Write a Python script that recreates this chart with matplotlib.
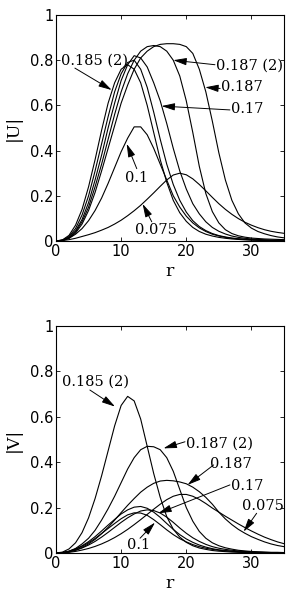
import matplotlib
matplotlib.use("Agg")
import matplotlib.pyplot as plt

# radial coordinate
r = list(range(0, 36))

# |U| profiles
U_0185_2 = [0, 0.005, 0.025, 0.07, 0.14, 0.24, 0.36, 0.49, 0.61, 0.70, 0.76, 0.78, 0.76, 0.70, 0.60, 0.48,
            0.36, 0.26, 0.18, 0.125, 0.087, 0.06, 0.042, 0.03, 0.022, 0.016, 0.012, 0.009, 0.007, 0.005,
            0.004, 0.003, 0.002, 0.002, 0.001, 0.001]
U_mid = [0, 0.004, 0.02, 0.055, 0.115, 0.20, 0.31, 0.43, 0.55, 0.66, 0.74, 0.79, 0.80, 0.76, 0.68, 0.57,
         0.45, 0.34, 0.25, 0.18, 0.128, 0.09, 0.064, 0.046, 0.033, 0.024, 0.018, 0.013, 0.01, 0.008,
         0.006, 0.005, 0.004, 0.003, 0.002, 0.002]
U_017 = [0, 0.003, 0.016, 0.045, 0.095, 0.17, 0.27, 0.38, 0.50, 0.61, 0.71, 0.78, 0.82, 0.81, 0.77, 0.70,
         0.62, 0.52, 0.41, 0.31, 0.23, 0.165, 0.12, 0.085, 0.06, 0.043, 0.031, 0.022, 0.016, 0.012,
         0.009, 0.007, 0.005, 0.004, 0.003, 0.003]
U_0187_2 = [0, 0.003, 0.014, 0.04, 0.085, 0.15, 0.24, 0.34, 0.45, 0.56, 0.66, 0.74, 0.80, 0.84, 0.86, 0.865,
            0.86, 0.84, 0.80, 0.73, 0.62, 0.48, 0.33, 0.21, 0.13, 0.08, 0.05, 0.033, 0.023, 0.017,
            0.013, 0.011, 0.009, 0.008, 0.007, 0.006]
U_0187 = [0, 0.002, 0.012, 0.035, 0.075, 0.135, 0.215, 0.31, 0.41, 0.51, 0.61, 0.69, 0.76, 0.81, 0.84, 0.86,
          0.87, 0.873, 0.873, 0.87, 0.86, 0.83, 0.76, 0.66, 0.53, 0.39, 0.27, 0.18, 0.12, 0.08,
          0.057, 0.042, 0.032, 0.024, 0.018, 0.014]
U_01 = [0, 0.003, 0.012, 0.03, 0.055, 0.09, 0.135, 0.19, 0.255, 0.325, 0.395, 0.455, 0.505, 0.505, 0.47, 0.41,
        0.34, 0.27, 0.20, 0.15, 0.11, 0.08, 0.058, 0.042, 0.03, 0.022, 0.016, 0.012, 0.009, 0.007,
        0.005, 0.004, 0.003, 0.002, 0.002, 0.001]
U_0075 = [0, 0.002, 0.006, 0.012, 0.02, 0.028, 0.037, 0.048, 0.06, 0.075, 0.092, 0.112, 0.134, 0.158, 0.185, 0.213,
          0.242, 0.27, 0.292, 0.30, 0.293, 0.275, 0.25, 0.222, 0.193, 0.165, 0.14, 0.118, 0.099, 0.083,
          0.07, 0.059, 0.05, 0.043, 0.038, 0.034]

# |V| profiles
V_0185_2 = [0, 0.004, 0.018, 0.045, 0.09, 0.155, 0.24, 0.34, 0.45, 0.56, 0.65, 0.69, 0.67, 0.59, 0.47, 0.35,
            0.245, 0.16, 0.105, 0.07, 0.047, 0.032, 0.022, 0.016, 0.011, 0.008, 0.006, 0.004, 0.003, 0.002,
            0.002, 0.001, 0.001, 0.001, 0.001, 0.001]
V_0187_2 = [0, 0.002, 0.008, 0.02, 0.04, 0.065, 0.10, 0.145, 0.195, 0.25, 0.31, 0.37, 0.42, 0.455, 0.47, 0.468,
            0.455, 0.42, 0.36, 0.28, 0.20, 0.14, 0.095, 0.065, 0.045, 0.032, 0.023, 0.017, 0.012, 0.009,
            0.007, 0.005, 0.004, 0.003, 0.003, 0.002]
V_0187 = [0, 0.001, 0.005, 0.012, 0.024, 0.04, 0.06, 0.085, 0.113, 0.145, 0.178, 0.21, 0.24, 0.268, 0.29, 0.307,
          0.317, 0.32, 0.318, 0.313, 0.305, 0.29, 0.27, 0.245, 0.215, 0.18, 0.15, 0.125, 0.104, 0.087,
          0.072, 0.06, 0.049, 0.04, 0.033, 0.028]
V_0075 = [0, 0.001, 0.003, 0.007, 0.013, 0.02, 0.029, 0.04, 0.053, 0.068, 0.085, 0.104, 0.125, 0.147, 0.17, 0.193,
          0.215, 0.235, 0.25, 0.258, 0.258, 0.25, 0.236, 0.218, 0.198, 0.18, 0.162, 0.145, 0.128, 0.112,
          0.097, 0.083, 0.07, 0.059, 0.049, 0.041]
V_mid = [0, 0.002, 0.008, 0.018, 0.032, 0.05, 0.072, 0.097, 0.123, 0.148, 0.172, 0.19, 0.202, 0.205, 0.197, 0.18,
         0.157, 0.13, 0.104, 0.081, 0.062, 0.047, 0.035, 0.026, 0.019, 0.014, 0.011, 0.008, 0.006, 0.005,
         0.004, 0.003, 0.002, 0.002, 0.001, 0.001]
V_017 = [0, 0.001, 0.005, 0.012, 0.022, 0.035, 0.051, 0.07, 0.091, 0.113, 0.135, 0.155, 0.172, 0.185, 0.19, 0.187,
         0.176, 0.158, 0.135, 0.11, 0.087, 0.067, 0.051, 0.038, 0.028, 0.021, 0.016, 0.012, 0.009, 0.007,
         0.005, 0.004, 0.003, 0.002, 0.002, 0.001]
V_01 = [0, 0.002, 0.007, 0.016, 0.029, 0.045, 0.064, 0.086, 0.108, 0.13, 0.151, 0.168, 0.177, 0.176, 0.166, 0.147,
        0.125, 0.102, 0.081, 0.063, 0.049, 0.037, 0.028, 0.021, 0.016, 0.012, 0.009, 0.007, 0.005, 0.004,
        0.003, 0.002, 0.002, 0.001, 0.001, 0.001]

x_ticks = [0, 10, 20, 30]
y_ticks = [0, 0.2, 0.4, 0.6, 0.8, 1]
y_ticklabels = ["0", "0.2", "0.4", "0.6", "0.8", "1"]

# annotation labels: (text, text position, horizontal alignment, arrow tail, arrow tip)
U_labels = [
    ("0.185 (2)", (0.7, 0.80), "left", (2.9, 0.765), (8.55, 0.668)),
    ("0.187 (2)", (24.6, 0.775), "left", (24.4, 0.78), (18.0, 0.80)),
    ("0.187", (25.4, 0.68), "left", (25.2, 0.675), (22.9, 0.68)),
    ("0.17", (26.9, 0.585), "left", (26.7, 0.58), (16.2, 0.597)),
    ("0.1", (12.3, 0.277), "center", (12.4, 0.32), (10.85, 0.43)),
    ("0.075", (15.3, 0.048), "center", (14.7, 0.085), (13.3, 0.164)),
]
V_labels = [
    ("0.185 (2)", (0.9, 0.755), "left", (5.2, 0.718), (9.06, 0.645)),
    ("0.187 (2)", (19.9, 0.482), "left", (19.8, 0.49), (16.5, 0.461)),
    ("0.187", (23.7, 0.394), "left", (24.2, 0.388), (20.2, 0.30)),
    ("0.17", (26.8, 0.293), "left", (26.7, 0.30), (15.7, 0.175)),
    ("0.075", (28.6, 0.205), "left", (30.8, 0.175), (28.8, 0.094)),
    ("0.1", (12.7, 0.035), "center", (12.9, 0.065), (15.2, 0.134)),
]

serif = ["DejaVu Serif"]
fig = plt.figure(figsize=(2.91, 5.98), dpi=100)
W, H = 291, 598
ax1 = fig.add_axes([56 / W, 1 - 241 / H, 228 / W, 226 / H])
ax2 = fig.add_axes([56 / W, 1 - 553 / H, 228 / W, 227 / H])


def style(ax, ylabel):
    ax.set_xlim(0, 35)
    ax.set_ylim(0, 1)
    ax.set_xticks(x_ticks)
    ax.set_yticks(y_ticks)
    ax.set_yticklabels(y_ticklabels)
    ax.tick_params(direction="in", top=True, right=True, length=3, width=0.6,
                   labelsize=10.5, pad=2)
    for lab in ax.get_xticklabels() + ax.get_yticklabels():
        lab.set_family("DejaVu Sans")
    for s in ax.spines.values():
        s.set_linewidth(0.8)
    ax.set_xlabel("r", family=serif, fontsize=12.5, labelpad=3)
    ax.set_ylabel(ylabel, family=serif, fontsize=12.5, labelpad=6)


for ax, curves, labels, yl in [
    (ax1, [U_0185_2, U_mid, U_017, U_0187_2, U_0187, U_01, U_0075], U_labels, "|U|"),
    (ax2, [V_0185_2, V_0187_2, V_0187, V_0075, V_mid, V_017, V_01], V_labels, "|V|"),
]:
    for c in curves:
        ax.plot(r, c, color="black", lw=0.8)
    style(ax, yl)
    for txt, tpos, ha, tail, tip in labels:
        ax.text(tpos[0], tpos[1], txt, family=serif, fontsize=10.5, ha=ha, va="center")
        ax.annotate("", xy=tip, xytext=tail,
                    arrowprops=dict(arrowstyle="-|>,head_length=0.8,head_width=0.22",
                                    color="black", lw=0.7, shrinkA=0, shrinkB=0,
                                    mutation_scale=10))

fig.savefig("out.png", dpi=100)
